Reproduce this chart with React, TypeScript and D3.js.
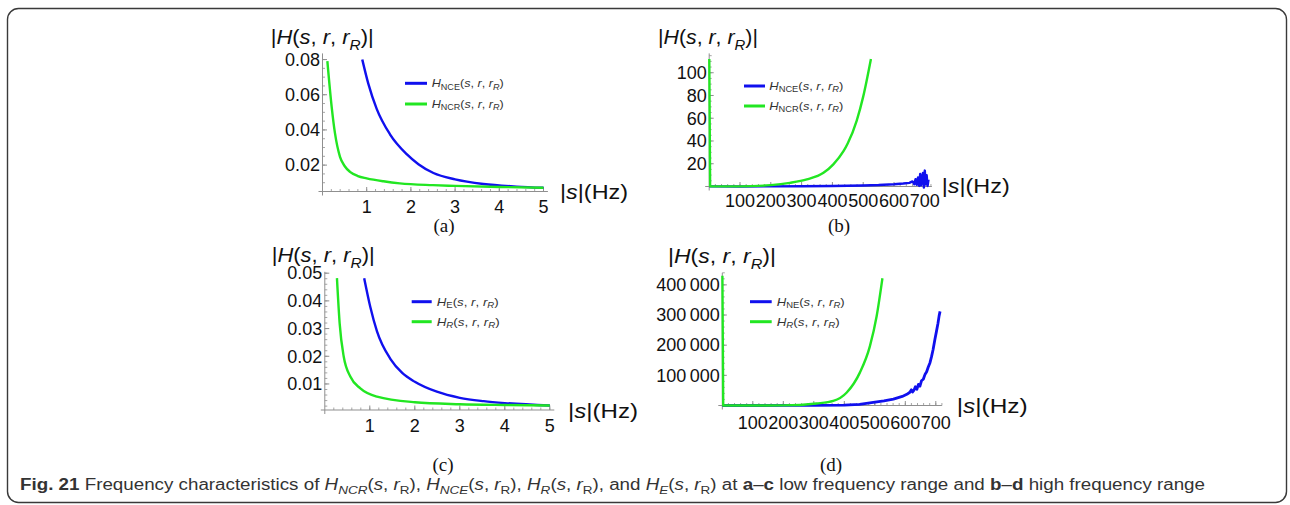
import React from 'react';
import * as d3 from 'd3';

// ---------- DATA ----------
// Panel (a): low frequency, H_NCE (blue) and H_NCR (green)
const aNceS = [0.9, 1.036, 1.226, 1.527, 1.905, 2.17, 2.51, 3.0, 3.64, 4.39, 5.0];
const aNceV = [0.08, 0.0663, 0.052, 0.0375, 0.0262, 0.0205, 0.0155, 0.0119, 0.0093, 0.0078, 0.0071];
const aNcrS = [0.11, 0.208, 0.283, 0.396, 0.5, 0.622, 0.8, 1.0, 1.38, 1.75, 2.5, 3.0, 4.0, 5.0];
const aNcrV = [0.0791, 0.053, 0.038, 0.0247, 0.0195, 0.0162, 0.0138, 0.0125, 0.0108, 0.0096, 0.0086, 0.0082, 0.0076, 0.0071];

// Panel (b): high frequency, H_NCE (blue) and H_NCR (green)
const bNceS = [0.3, 3, 100, 200, 300, 400, 500, 550, 600, 630, 650, 660, 666, 670, 674, 678, 682, 685, 688, 691, 694, 697, 700, 703, 706, 709, 712];
const bNceV = [0.3, 0.1, 0.05, 0.1, 0.2, 0.4, 0.9, 1.3, 2.0, 2.6, 3.2, 4.5, 2.0, 6.5, 1.5, 8.0, 0.5, 11.0, 1.0, 7.0, 12.0, -1.0, 14.0, 2.0, 10.0, 0.5, 6.0];
const bNcrS = [0.3, 3, 100, 200, 262, 317, 371, 403, 436, 450, 479, 500, 525];
const bNcrV = [112, 0.2, 0.1, 1.2, 3.2, 6.2, 12, 19.5, 31, 38, 58, 79, 112];

// Panel (c): low frequency, H_E (blue) and H_R (green)
const cES = [0.875, 1.01, 1.16, 1.46, 1.72, 2.0, 2.49, 3.0, 3.53, 4.0, 5.0];
const cEV = [0.0482, 0.0379, 0.0290, 0.0190, 0.0140, 0.0108, 0.0072, 0.0050, 0.0038, 0.0031, 0.0022];
const cRS = [0.27, 0.33, 0.42, 0.57, 0.79, 1.16, 2.0, 3.0, 4.0, 5.0];
const cRV = [0.0482, 0.0319, 0.0199, 0.0126, 0.0084, 0.0054, 0.0034, 0.0027, 0.0024, 0.0022];

// Panel (d): high frequency, H_NE (blue) and H_R (green)
const dNeS = [0.3, 3, 100, 200, 300, 400, 450, 495, 530, 561, 590, 605, 615, 620, 624, 628, 633, 638, 643, 648, 653, 659, 665, 670, 675, 681, 686, 691, 697, 702, 707, 711, 714];
const dNeV = [0, 0, 0, 100, 300, 1500, 3500, 10000, 15000, 21000, 30000, 37000, 44000, 52000, 45000, 50000, 62000, 54000, 70000, 64000, 82000, 87000, 104000, 112000, 127000, 142000, 162000, 185000, 219000, 245000, 272000, 298000, 312000];
const dRS = [0.3, 3, 100, 200, 309, 364, 408, 451, 484, 506, 525];
const dRV = [430000, 200, 100, 300, 6600, 15000, 43000, 109000, 197000, 296000, 422000];

// Tick values
const lowXTicks = [1, 2, 3, 4, 5];
const aYTicks = [0.02, 0.04, 0.06, 0.08];
const cYTicks = [0.01, 0.02, 0.03, 0.04, 0.05];
const highXTicks = [100, 200, 300, 400, 500, 600, 700];
const bYTicks = [20, 40, 60, 80, 100];
const dYTicks = [100000, 200000, 300000, 400000];

// ---------- STYLE ----------
const BLUE = '#1010ee';
const GREEN = '#22e622';
const AXIS = '#8f8f8f';
const SANS = '"Liberation Sans", Arial, Helvetica, sans-serif';
const SERIF = '"Liberation Serif", "Times New Roman", serif';
const TICK_FS = 18;

type Seg = { t: string; i?: boolean; b?: boolean; sub?: boolean };

function Rich(props: {
  x: number; y: number; segs: Seg[]; size: number; family?: string; len?: number;
  anchor?: string; fill?: string; subScale?: number; subShift?: number;
}) {
  const { x, y, segs, size, family = SANS, len, anchor = 'start', fill = '#111' } = props;
  const subScale = props.subScale ?? 0.7;
  const subShift = props.subShift ?? 0.28;
  let shift = 0;
  return (
    <text
      x={x}
      y={y}
      fontSize={size}
      fontFamily={family}
      textAnchor={anchor}
      fill={fill}
      textLength={len}
      lengthAdjust={len ? 'spacingAndGlyphs' : undefined}
      style={{ whiteSpace: 'pre' }}
    >
      {segs.map((s, k) => {
        const target = s.sub ? size * subShift : 0;
        const dy = target - shift;
        shift = target;
        return (
          <tspan
            key={k}
            dy={dy !== 0 ? dy : undefined}
            fontStyle={s.i ? 'italic' : undefined}
            fontWeight={s.b ? 'bold' : undefined}
            fontSize={s.sub ? size * subScale : undefined}
          >
            {s.t}
          </tspan>
        );
      })}
    </text>
  );
}

const absH: Seg[] = [
  { t: '|' }, { t: 'H', i: true }, { t: '(' }, { t: 's', i: true }, { t: ', ' },
  { t: 'r', i: true }, { t: ', ' }, { t: 'r', i: true }, { t: 'R', i: true, sub: true },
  { t: ')' }, { t: '|' },
];
const absS: Seg[] = [{ t: '|' }, { t: 's', i: true }, { t: '|' }, { t: '(Hz)' }];
const legSegs = (sub: string, subItalic: boolean): Seg[] => [
  { t: 'H', i: true }, { t: sub, sub: true, i: subItalic }, { t: '(' }, { t: 's', i: true },
  { t: ', ' }, { t: 'r', i: true }, { t: ', ' }, { t: 'r', i: true }, { t: 'R', i: true, sub: true }, { t: ')' },
];

type Series = { s: number[]; v: number[]; color: string; smooth: boolean; width: number };

function Panel(props: {
  x: d3.ScaleLinear<number, number>;
  y: d3.ScaleLinear<number, number>;
  xTicks: number[]; xMinorStep: number;
  yTicks: number[]; yMinorStep: number;
  yFmt: (v: number) => string;
  xLabelDy: number;
  series: Series[];
  legend: { x1: number; x2: number; ys: number[]; tx: number; lens: number[]; segs: Seg[][] };
  yLabel: { x: number; y: number; len: number };
  sLabel: { x: number; y: number; len: number };
  tag: { x: number; y: number; t: string };
}) {
  const { x, y } = props;
  const [x0, x1] = x.range();
  const [y0, y1] = y.range();
  const [xd0, xd1] = x.domain();
  const [yd0, yd1] = y.domain();
  const xMinor: number[] = [];
  for (let k = 1; xd0 + k * props.xMinorStep <= xd1 + 1e-9; k++) xMinor.push(xd0 + k * props.xMinorStep);
  const yMinor: number[] = [];
  const yStart = Math.ceil(yd0 / props.yMinorStep - 1e-9) * props.yMinorStep;
  for (let v = yStart; v <= yd1 + 1e-12; v += props.yMinorStep) yMinor.push(v);

  return (
    <g>
      {/* axes */}
      <line x1={x0 - 4} x2={x1} y1={y0} y2={y0} stroke={AXIS} strokeWidth={1} />
      <line x1={x0} x2={x0} y1={y0 + 4} y2={y1} stroke={AXIS} strokeWidth={1} />
      {xMinor.map((v, k) => (
        <line key={'xm' + k} x1={x(v)} x2={x(v)} y1={y0} y2={y0 - 2.5} stroke={AXIS} strokeWidth={0.8} />
      ))}
      {props.xTicks.map((v, k) => (
        <g key={'xt' + k}>
          <line x1={x(v)} x2={x(v)} y1={y0} y2={y0 - 4.5} stroke={AXIS} strokeWidth={1} />
          <text x={x(v)} y={y0 + props.xLabelDy} fontSize={TICK_FS} fontFamily={SANS} textAnchor="middle" fill="#111">
            {String(v)}
          </text>
        </g>
      ))}
      {yMinor.map((v, k) => (
        <line key={'ym' + k} x1={x0} x2={x0 + 2.5} y1={y(v)} y2={y(v)} stroke={AXIS} strokeWidth={0.8} />
      ))}
      {props.yTicks.map((v, k) => (
        <g key={'yt' + k}>
          <line x1={x0} x2={x0 + 4.5} y1={y(v)} y2={y(v)} stroke={AXIS} strokeWidth={1} />
          <text x={x0 - 2.5} y={y(v) + 6.3} fontSize={TICK_FS} fontFamily={SANS} textAnchor="end" fill="#111">
            {props.yFmt(v)}
          </text>
        </g>
      ))}
      {/* curves */}
      {props.series.map((se, k) => {
        const pts: [number, number][] = se.s.map((s, i) => [s, se.v[i]]);
        const gen = d3
          .line<[number, number]>()
          .x((d) => x(d[0]))
          .y((d) => y(d[1]))
          .curve(se.smooth ? d3.curveMonotoneX : d3.curveLinear);
        return (
          <path key={'s' + k} d={gen(pts) || ''} fill="none" stroke={se.color} strokeWidth={se.width}
            strokeLinejoin="round" strokeLinecap="butt" />
        );
      })}
      {/* legend */}
      {props.legend.ys.map((ly, k) => (
        <g key={'lg' + k}>
          <line x1={props.legend.x1} x2={props.legend.x2} y1={ly} y2={ly}
            stroke={k === 0 ? BLUE : GREEN} strokeWidth={3} />
          <Rich x={props.legend.tx} y={ly + 4} size={11.5} segs={props.legend.segs[k]} len={props.legend.lens[k]}
            fill="#333" subScale={0.72} subShift={0.2} />
        </g>
      ))}
      {/* labels */}
      <Rich x={props.yLabel.x} y={props.yLabel.y} size={20} segs={absH} len={props.yLabel.len} />
      <Rich x={props.sLabel.x} y={props.sLabel.y} size={20} segs={absS} len={props.sLabel.len} />
      <text x={props.tag.x} y={props.tag.y} fontSize={19} fontFamily={SERIF} textAnchor="middle" fill="#111">
        {props.tag.t}
      </text>
    </g>
  );
}

const fmtDec = (v: number) => d3.format('.2f')(v);
const fmtInt = (v: number) => String(v);
const fmtSpace = (v: number) => {
  const s = String(Math.round(v));
  return s.length > 3 ? s.slice(0, s.length - 3) + '\u2009' + s.slice(s.length - 3) : s;
};

export default function App() {
  const ax = d3.scaleLinear().domain([0, 5.1]).range([322.5, 322.5 + 5.1 * 44.2]);
  const ay = d3.scaleLinear().domain([0.005, 0.0835]).range([191.5, 53.4]);
  const bx = d3.scaleLinear().domain([0, 723]).range([709.2, 709.2 + 723 * 0.308]);
  const by = d3.scaleLinear().domain([0, 117]).range([186.5, 53.4]);
  const cx = d3.scaleLinear().domain([0, 5.1]).range([324.8, 324.8 + 5.1 * 45]);
  const cy = d3.scaleLinear().domain([0.0006, 0.0505]).range([410, 271.8]);
  const dx = d3.scaleLinear().domain([0, 720]).range([722.3, 722.3 + 720 * 0.305]);
  const dy = d3.scaleLinear().domain([0, 440000]).range([405.5, 272.8]);

  const caption: Seg[] = [
    { t: 'Fig. 21', b: true }, { t: ' Frequency characteristics of ' },
    { t: 'H', i: true }, { t: 'NCR', i: true, sub: true }, { t: '(' }, { t: 's', i: true }, { t: ', ' }, { t: 'r', i: true }, { t: 'R', sub: true }, { t: '), ' },
    { t: 'H', i: true }, { t: 'NCE', i: true, sub: true }, { t: '(' }, { t: 's', i: true }, { t: ', ' }, { t: 'r', i: true }, { t: 'R', sub: true }, { t: '), ' },
    { t: 'H', i: true }, { t: 'R', i: true, sub: true }, { t: '(' }, { t: 's', i: true }, { t: ', ' }, { t: 'r', i: true }, { t: 'R', sub: true }, { t: '), and ' },
    { t: 'H', i: true }, { t: 'E', i: true, sub: true }, { t: '(' }, { t: 's', i: true }, { t: ', ' }, { t: 'r', i: true }, { t: 'R', sub: true }, { t: ') at ' },
    { t: 'a', b: true }, { t: '–' }, { t: 'c', b: true }, { t: ' low frequency range and ' },
    { t: 'b', b: true }, { t: '–' }, { t: 'd', b: true }, { t: ' high frequency range' },
  ];

  return (
    <svg width={1290} height={505} style={{ position: 'absolute', left: 0, top: 0, background: '#fff' }}>
      <rect x={0} y={0} width={1290} height={505} fill="#fff" />
      <rect x={7.5} y={8.5} width={1279} height={494} rx={11} ry={11} fill="none" stroke="#3a3a3a" strokeWidth={1.4} />

      <Panel
        x={ax} y={ay} xTicks={lowXTicks} xMinorStep={0.2} yTicks={aYTicks} yMinorStep={0.005}
        yFmt={fmtDec} xLabelDy={21.5}
        series={[
          { s: aNceS, v: aNceV, color: BLUE, smooth: true, width: 2.4 },
          { s: aNcrS, v: aNcrV, color: GREEN, smooth: true, width: 2.4 },
        ]}
        legend={{ x1: 405, x2: 427, ys: [83.3, 104], tx: 431.7, lens: [72, 72], segs: [legSegs('NCE', false), legSegs('NCR', false)] }}
        yLabel={{ x: 270.7, y: 44, len: 103 }}
        sLabel={{ x: 560, y: 199, len: 68 }}
        tag={{ x: 444, y: 232, t: '(a)' }}
      />
      <Panel
        x={bx} y={by} xTicks={highXTicks} xMinorStep={20} yTicks={bYTicks} yMinorStep={5}
        yFmt={fmtInt} xLabelDy={20}
        series={[
          { s: bNceS, v: bNceV, color: BLUE, smooth: false, width: 2.4 },
          { s: bNcrS, v: bNcrV, color: GREEN, smooth: true, width: 2.4 },
        ]}
        legend={{ x1: 744, x2: 765, ys: [86, 106], tx: 769.3, lens: [74, 74], segs: [legSegs('NCE', false), legSegs('NCR', false)] }}
        yLabel={{ x: 658, y: 44, len: 100 }}
        sLabel={{ x: 941.7, y: 193, len: 68 }}
        tag={{ x: 839, y: 232, t: '(b)' }}
      />
      <Panel
        x={cx} y={cy} xTicks={lowXTicks} xMinorStep={0.2} yTicks={cYTicks} yMinorStep={0.002}
        yFmt={fmtDec} xLabelDy={21.7}
        series={[
          { s: cES, v: cEV, color: BLUE, smooth: true, width: 2.4 },
          { s: cRS, v: cRV, color: GREEN, smooth: true, width: 2.4 },
        ]}
        legend={{ x1: 411.7, x2: 431.7, ys: [301.7, 321.7], tx: 436.7, lens: [62, 63], segs: [legSegs('E', false), legSegs('R', true)] }}
        yLabel={{ x: 271.7, y: 262, len: 103 }}
        sLabel={{ x: 568, y: 418, len: 70 }}
        tag={{ x: 443, y: 471, t: '(c)' }}
      />
      <Panel
        x={dx} y={dy} xTicks={highXTicks} xMinorStep={20} yTicks={dYTicks} yMinorStep={20000}
        yFmt={fmtSpace} xLabelDy={23}
        series={[
          { s: dNeS, v: dNeV, color: BLUE, smooth: false, width: 2.8 },
          { s: dRS, v: dRV, color: GREEN, smooth: true, width: 2.4 },
        ]}
        legend={{ x1: 750, x2: 771.7, ys: [301.7, 321.7], tx: 776.7, lens: [68, 63], segs: [legSegs('NE', false), legSegs('R', true)] }}
        yLabel={{ x: 668, y: 263, len: 108 }}
        sLabel={{ x: 956.7, y: 413, len: 71 }}
        tag={{ x: 831, y: 471, t: '(d)' }}
      />

      <Rich x={20} y={490} size={16} segs={caption} len={1185} fill="#333" subScale={0.72} subShift={0.25} />
    </svg>
  );
}
